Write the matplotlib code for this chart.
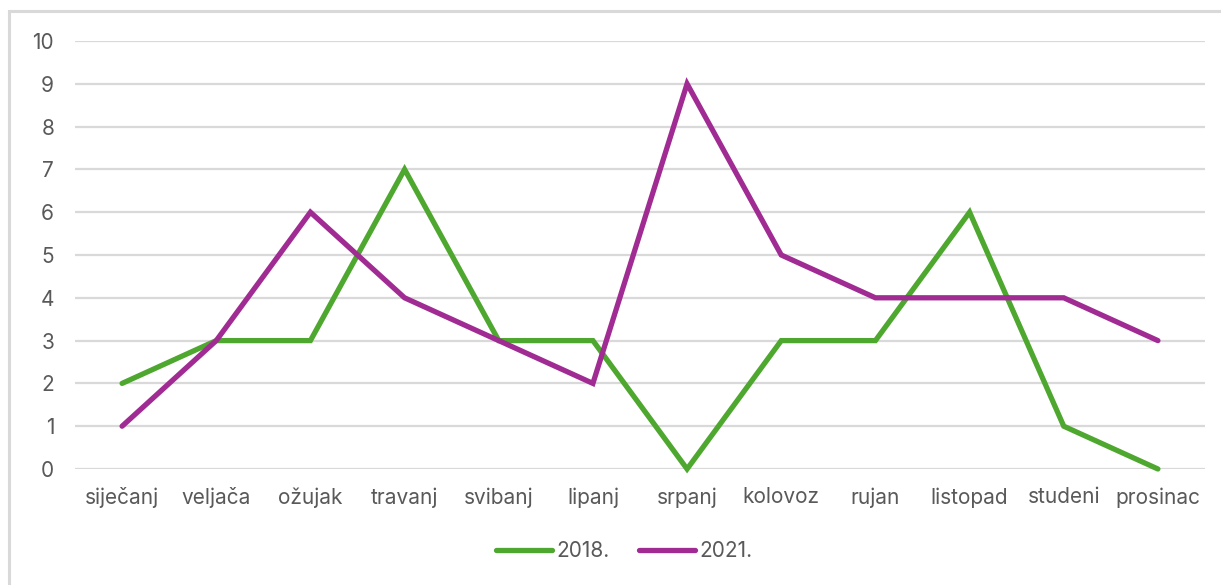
import matplotlib
matplotlib.use('Agg')
import matplotlib.pyplot as plt
from matplotlib.patches import Rectangle

months = ['siječanj', 'veljača', 'ožujak', 'travanj', 'svibanj', 'lipanj',
          'srpanj', 'kolovoz', 'rujan', 'listopad', 'studeni', 'prosinac']
values_2018 = [2, 3, 3, 7, 3, 3, 0, 3, 3, 6, 1, 0]
values_2021 = [1, 3, 6, 4, 3, 2, 9, 5, 4, 4, 4, 3]
series_labels = ['2018.', '2021.']
series_colors = ['#4EA72E', '#A02B93']

plt.rcParams['font.family'] = ['Inter', 'DejaVu Sans']
text_color = '#595959'

fig = plt.figure(figsize=(12.21, 5.85), dpi=100)
fig.patches.append(Rectangle((9 / 1221, -0.1), 1.2, (585 - 11) / 585 + 0.1,
                             transform=fig.transFigure, fill=False,
                             edgecolor='#D9D9D9', linewidth=2.2))
ax = fig.add_axes([75 / 1221, (585 - 469) / 585, 1130 / 1221, 428 / 585])

x = range(len(months))
for vals, label, color in zip([values_2018, values_2021], series_labels, series_colors):
    ax.plot(x, vals, color=color, linewidth=3.8, label=label,
            solid_capstyle='round', solid_joinstyle='miter', zorder=3)

ax.set_xlim(-0.5, len(months) - 0.5)
ax.set_ylim(0, 10)
ax.set_yticks(range(0, 11))
ax.set_xticks(list(x))
ax.set_xticklabels(months)
ax.tick_params(axis='both', length=0, labelsize=15, labelcolor=text_color)
ax.tick_params(axis='x', pad=13)
ax.tick_params(axis='y', pad=15)
ax.grid(axis='y', color='#D9D9D9', linewidth=1.6)
ax.set_axisbelow(True)
for s in ax.spines.values():
    s.set_visible(False)
for line in ax.get_lines():
    line.set_clip_on(False)

leg = fig.legend(loc='center', bbox_to_anchor=(0.511, (585 - 551) / 585), ncol=2,
                 frameon=False, fontsize=15, handlelength=2.7, handletextpad=0.2,
                 columnspacing=1.4)
for t in leg.get_texts():
    t.set_color(text_color)

fig.savefig('out.png', dpi=100)
